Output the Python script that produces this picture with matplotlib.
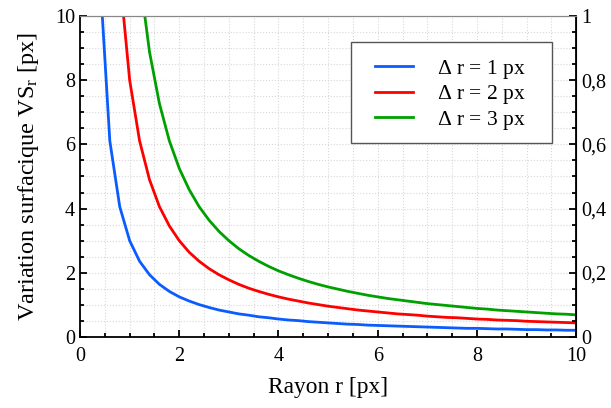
import matplotlib
matplotlib.use("Agg")
import matplotlib.pyplot as plt
from matplotlib.ticker import MultipleLocator, FuncFormatter
from matplotlib.patches import Rectangle

plt.rcParams['font.family'] = ['Liberation Serif', 'DejaVu Serif']
plt.rcParams['mathtext.fontset'] = 'custom'
plt.rcParams['mathtext.rm'] = 'Liberation Serif'
plt.rcParams['mathtext.it'] = 'Liberation Serif:italic'

r = [0.4, 0.6, 0.8, 1.0, 1.2, 1.4, 1.6, 1.8, 2.0, 2.2, 2.4, 2.6, 2.8, 3.0, 3.2, 3.4,
     3.6, 3.8, 4.0, 4.2, 4.4, 4.6, 4.8, 5.0, 5.2, 5.4, 5.6, 5.8, 6.0, 6.2, 6.4, 6.6,
     6.8, 7.0, 7.2, 7.4, 7.6, 7.8, 8.0, 8.2, 8.4, 8.6, 8.8, 9.0, 9.2, 9.4, 9.6, 9.8, 10.0]

vs_dr1 = [11.25, 6.11, 4.06, 3.00, 2.36, 1.94, 1.64, 1.42, 1.25, 1.12, 1.01, 0.92, 0.84,
          0.78, 0.72, 0.68, 0.63, 0.60, 0.56, 0.53, 0.51, 0.48, 0.46, 0.44, 0.42, 0.40,
          0.39, 0.37, 0.36, 0.35, 0.34, 0.33, 0.32, 0.31, 0.30, 0.29, 0.28, 0.27, 0.27,
          0.26, 0.25, 0.25, 0.24, 0.23, 0.23, 0.22, 0.22, 0.21, 0.21]

vs_dr2 = [11.25, 8.00, 6.11, 4.90, 4.06, 3.46, 3.00, 2.64, 2.36, 2.13, 1.94, 1.78, 1.64,
          1.52, 1.42, 1.33, 1.25, 1.18, 1.12, 1.06, 1.01, 0.96, 0.92, 0.88, 0.84, 0.81,
          0.78, 0.75, 0.72, 0.70, 0.68, 0.65, 0.63, 0.61, 0.60, 0.58, 0.56, 0.55, 0.53,
          0.52, 0.51, 0.49, 0.48, 0.47, 0.46, 0.45, 0.44]

vs_dr3 = [11.25, 8.88, 7.27, 6.11, 5.25, 4.59, 4.06, 3.64, 3.29, 3.00, 2.75, 2.54, 2.36,
          2.20, 2.06, 1.94, 1.83, 1.73, 1.64, 1.56, 1.49, 1.42, 1.36, 1.30, 1.25, 1.20,
          1.16, 1.12, 1.08, 1.04, 1.01, 0.98, 0.95, 0.92, 0.89, 0.87, 0.84, 0.82, 0.80,
          0.78, 0.76, 0.74, 0.72, 0.71, 0.69]

labels = [r'$\Delta$ r = 1 px', r'$\Delta$ r = 2 px', r'$\Delta$ r = 3 px']
colors = ['#0a5cff', '#ff0000', '#00a000']

fig = plt.figure(figsize=(6.11, 4.08), dpi=100)
ax = fig.add_axes([0.131, 0.174, 0.812, 0.787])

series = [(r, vs_dr1), (r[2:], vs_dr2), (r[4:], vs_dr3)]
for (x, y), lab, c in zip(series, labels, colors):
    ax.plot(x, y, color=c, lw=2.0, label=lab)

ax.set_xlim(0, 10)
ax.set_ylim(0, 10)
ax.xaxis.set_major_locator(MultipleLocator(2))
ax.xaxis.set_minor_locator(MultipleLocator(0.5))
ax.yaxis.set_major_locator(MultipleLocator(2))
ax.yaxis.set_minor_locator(MultipleLocator(0.5))
ax.grid(True, which='both', color='#d8d8d8', linestyle=':', linewidth=0.8)
ax.set_axisbelow(True)

ax.tick_params(which='both', direction='in', top=False, right=False, labelsize=14.5, width=1.3)
ax.tick_params(which='major', length=5)
ax.tick_params(which='minor', length=3)
ax.tick_params(axis='x', pad=7)
ax.spines['top'].set_color('#888888')
for s in ['left', 'bottom']:
    ax.spines[s].set_linewidth(1.3)

ax.set_xlabel('Rayon r [px]', fontsize=16.8, labelpad=8)
ax.set_ylabel(r'Variation surfacique VS$_\mathrm{r}$ [px]', fontsize=17.5, labelpad=10)

ax2 = ax.twinx()
ax2.set_ylim(0, 1)
ax2.yaxis.set_major_locator(MultipleLocator(0.2))
ax2.yaxis.set_minor_locator(MultipleLocator(0.05))
ax2.yaxis.set_major_formatter(FuncFormatter(lambda v, p: ('%g' % round(v, 2)).replace('.', ',')))
ax2.tick_params(which='both', direction='in', labelsize=14.5, width=1.3)
ax2.tick_params(which='major', length=5)
ax2.tick_params(which='minor', length=3)
ax2.spines['right'].set_linewidth(1.3)
ax2.spines['top'].set_color('#888888')
ax2.spines['left'].set_visible(False)
ax2.spines['bottom'].set_visible(False)

# legend frame drawn as a rectangle (axes fraction coordinates)
frame = Rectangle((0.546, 0.604), 0.406, 0.315, transform=ax.transAxes,
                  facecolor='white', edgecolor='#555555', linewidth=1.0, zorder=4)
ax.add_patch(frame)
leg = ax.legend(loc='center left', bbox_to_anchor=(0.595, 0.754), fontsize=15.5,
                frameon=False, handlelength=1.75, handletextpad=1.1, borderpad=0,
                labelspacing=0.12, borderaxespad=0)
leg.set_zorder(5)

fig.savefig('out.png', dpi=100)
